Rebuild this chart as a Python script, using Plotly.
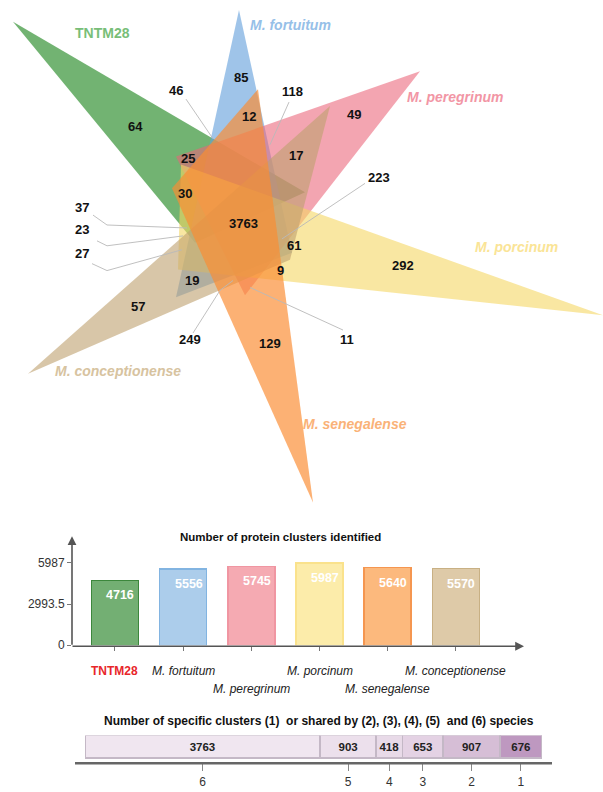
import plotly.graph_objects as go

# ---------------- data ----------------
species = ["TNTM28", "M. fortuitum", "M. peregrinum", "M. porcinum",
           "M. senegalense", "M. conceptionense"]
cluster_totals = [4716, 5556, 5745, 5987, 5640, 5570]
total_ticks = [0, 2993.5, 5987]

share_levels = ["6", "5", "4", "3", "2", "1"]
share_counts = [3763, 903, 418, 653, 907, 676]

venn_counts = [64, 85, 46, 118, 12, 49, 25, 17, 30, 223, 37,
               3763, 23, 27, 61, 292, 9, 19, 57, 249, 129, 11]

# ---------------- styling / geometry ----------------
W, H = 603, 792
FONT = "Liberation Sans, Arial, sans-serif"

# one long triangle per genome (pixel space of the overlay axis)
tri_vertices = [
    [(13, 22), (195, 245), (305, 194)],     # TNTM28
    [(239, 10), (176, 300), (292, 255)],    # M. fortuitum
    [(420, 72), (176, 158), (245, 298)],    # M. peregrinum
    [(603, 318), (181, 166), (178, 272)],   # M. porcinum
    [(313, 507), (258, 90), (172, 190)],    # M. senegalense
    [(28, 377), (330, 107), (290, 262)],    # M. conceptionense
]
tri_fill = ["rgba(60,150,60,0.72)", "rgba(100,160,220,0.62)",
            "rgba(235,100,120,0.58)", "rgba(245,215,100,0.60)",
            "rgba(250,140,50,0.68)", "rgba(190,160,110,0.60)"]
draw_order = [0, 1, 2, 3, 5, 4]

name_pos = [(102, 33), (290, 25), (455, 98), (516, 249), (355, 428), (118, 374)]
name_color = ["rgb(120,190,120)", "rgb(150,192,232)", "rgb(242,150,165)",
              "rgb(250,228,150)", "rgb(250,178,120)", "rgb(215,195,160)"]

count_pos = [(135, 128), (241, 78), (176, 91), (292, 92), (249, 118), (354, 116),
             (188, 160), (296, 157), (185, 195), (379, 179), (82, 209),
             (243, 225), (82, 232), (82, 256), (294, 248), (403, 268),
             (280, 273), (192, 283), (138, 309), (190, 343), (270, 347), (347, 343)]

leaders = [
    [(186, 100), (213, 140)],
    [(289, 103), (270, 146)],
    [(365, 185), (282, 241)],
    [(93, 217), (107, 227), (187, 230)],
    [(97, 243), (107, 248), (183, 238)],
    [(92, 266), (107, 273), (182, 252)],
    [(193, 336), (220, 293), (233, 283)],
    [(343, 333), (250, 290)],
]

bar_fill = ["rgb(115,175,115)", "rgb(172,205,235)", "rgb(245,170,178)",
            "rgb(252,236,170)", "rgb(252,185,125)", "rgb(222,202,168)"]
bar_edge = ["rgb(60,135,60)", "rgb(130,180,225)", "rgb(240,150,162)",
            "rgb(250,226,140)", "rgb(245,150,80)", "rgb(200,176,132)"]
label_row = [0, 0, 1, 0, 1, 0]

share_fill = ["rgb(240,230,240)", "rgb(236,224,236)", "rgb(232,218,232)",
              "rgb(228,210,228)", "rgb(214,190,214)", "rgb(190,152,192)"]

fig = go.Figure()

# ---------------- Venn-like star ----------------
for i in draw_order:
    pts = tri_vertices[i] + [tri_vertices[i][0]]
    fig.add_trace(go.Scatter(
        x=[p[0] for p in pts], y=[p[1] for p in pts],
        mode="lines", fill="toself", fillcolor=tri_fill[i],
        line=dict(width=0), hoverinfo="skip", showlegend=False,
        xaxis="x", yaxis="y"))

for seg in leaders:
    fig.add_trace(go.Scatter(
        x=[p[0] for p in seg], y=[p[1] for p in seg], mode="lines",
        line=dict(color="rgba(185,185,185,0.9)", width=1),
        hoverinfo="skip", showlegend=False, xaxis="x", yaxis="y"))

annotations = []
for val, (x, y) in zip(venn_counts, count_pos):
    annotations.append(dict(x=x, y=y, xref="x", yref="y", text=str(val),
                            showarrow=False,
                            font=dict(family=FONT, size=13, color="#111", weight="bold")))

for name, (x, y), col in zip(species, name_pos, name_color):
    annotations.append(dict(x=x, y=y, xref="x", yref="y", text=name,
                            showarrow=False,
                            font=dict(family=FONT, size=14, color=col, weight="bold",
                                      style="normal" if name == "TNTM28" else "italic")))

# ---------------- protein cluster totals ----------------
xpos = list(range(len(species)))
fig.add_trace(go.Bar(
    x=xpos, y=cluster_totals, width=0.69,
    marker=dict(color=bar_fill, line=dict(color=bar_edge, width=1.5)),
    hoverinfo="skip", showlegend=False, xaxis="x2", yaxis="y2"))

# value labels just below each bar top
for i, v in zip(xpos, cluster_totals):
    annotations.append(dict(x=i + 0.08, y=v, xref="x2", yref="y2", yshift=-15,
                            text=str(v), showarrow=False,
                            font=dict(family=FONT, size=12.5, color="white", weight="bold")))

# axis arrows
annotations.append(dict(x=72, y=541, ax=72, ay=652, xref="x", yref="y",
                        axref="x", ayref="y", showarrow=True, text="",
                        arrowhead=2, arrowsize=1.1, arrowwidth=1.6, arrowcolor="#555"))
annotations.append(dict(x=524, y=652, ax=71, ay=652, xref="x", yref="y",
                        axref="x", ayref="y", showarrow=True, text="",
                        arrowhead=2, arrowsize=1.1, arrowwidth=1.6, arrowcolor="#555"))

annotations.append(dict(x=280, y=542, xref="x", yref="y",
                        text="Number of protein clusters identified", showarrow=False,
                        font=dict(family=FONT, size=11.5, color="#111", weight="bold")))

for i, name in enumerate(species):
    is_ref = name == "TNTM28"
    annotations.append(dict(
        x=i, y=677 + 18 * label_row[i], xref="x2", yref="y", text=name,
        showarrow=False,
        font=dict(family=FONT, size=12, color="#e8262a" if is_ref else "#222",
                  weight="bold" if is_ref else "normal",
                  style="normal" if is_ref else "italic")))

# ---------------- specific / shared clusters ----------------
mids = []
acc = 0
for c in share_counts:
    mids.append(acc + c / 2)
    acc += c

for lvl, c, col in zip(share_levels, share_counts, share_fill):
    fig.add_trace(go.Bar(
        x=[c], y=[0], orientation="h", width=1,
        marker=dict(color=col, line=dict(color="rgb(196,184,198)", width=1.8)),
        text=[str(c)], textposition="inside", insidetextanchor="middle",
        constraintext="none",
        textfont=dict(family=FONT, size=11.5, color="#222", weight="bold"),
        hoverinfo="skip", showlegend=False, xaxis="x3", yaxis="y3"))

annotations.append(dict(
    x=319, y=727, xref="x", yref="y",
    text="Number of specific clusters (1)  or shared by (2), (3), (4), (5)  and (6) species",
    showarrow=False, font=dict(family=FONT, size=12, color="#111", weight="bold")))

shapes = [dict(type="line", xref="paper", yref="paper",
               x0=75 / W, x1=552 / W, y0=(H - 770) / H, y1=(H - 770) / H,
               line=dict(color="#666", width=2.5))]

# ---------------- layout ----------------
fig.update_layout(
    width=W, height=H, margin=dict(l=0, r=0, t=0, b=0),
    paper_bgcolor="white", plot_bgcolor="rgba(0,0,0,0)",
    barmode="stack", annotations=annotations, shapes=shapes,
    xaxis=dict(domain=[0, 1], range=[0, W], visible=False, fixedrange=True),
    yaxis=dict(domain=[0, 1], range=[H, 0], visible=False, fixedrange=True),
    xaxis2=dict(domain=[72 / W, 522 / W], range=[-0.63, 5.97], anchor="y2",
                showline=False, showgrid=False, zeroline=False,
                tickvals=xpos, ticks="outside", ticklen=5, tickcolor="#777",
                showticklabels=False),
    yaxis2=dict(domain=[(H - 651) / H, (H - 543) / H], range=[0, 7790], anchor="x2",
                showline=False, showgrid=False, zeroline=False,
                tickvals=total_ticks, ticktext=["0", "2993.5", "5987"],
                ticks="outside", ticklen=4, tickcolor="#777",
                tickfont=dict(family=FONT, size=12, color="#333")),
    xaxis3=dict(domain=[85 / W, 542 / W], range=[0, sum(share_counts)], anchor="y3",
                showline=False, showgrid=False, zeroline=False,
                tickvals=mids, ticktext=share_levels, ticks="outside", ticklen=7,
                tickcolor="#888", tickfont=dict(family=FONT, size=12, color="#333")),
    yaxis3=dict(domain=[(H - 770) / H, (H - 742) / H], range=[-0.717, 0.5],
                anchor="x3", visible=False),
)

fig.write_html("out.html")
